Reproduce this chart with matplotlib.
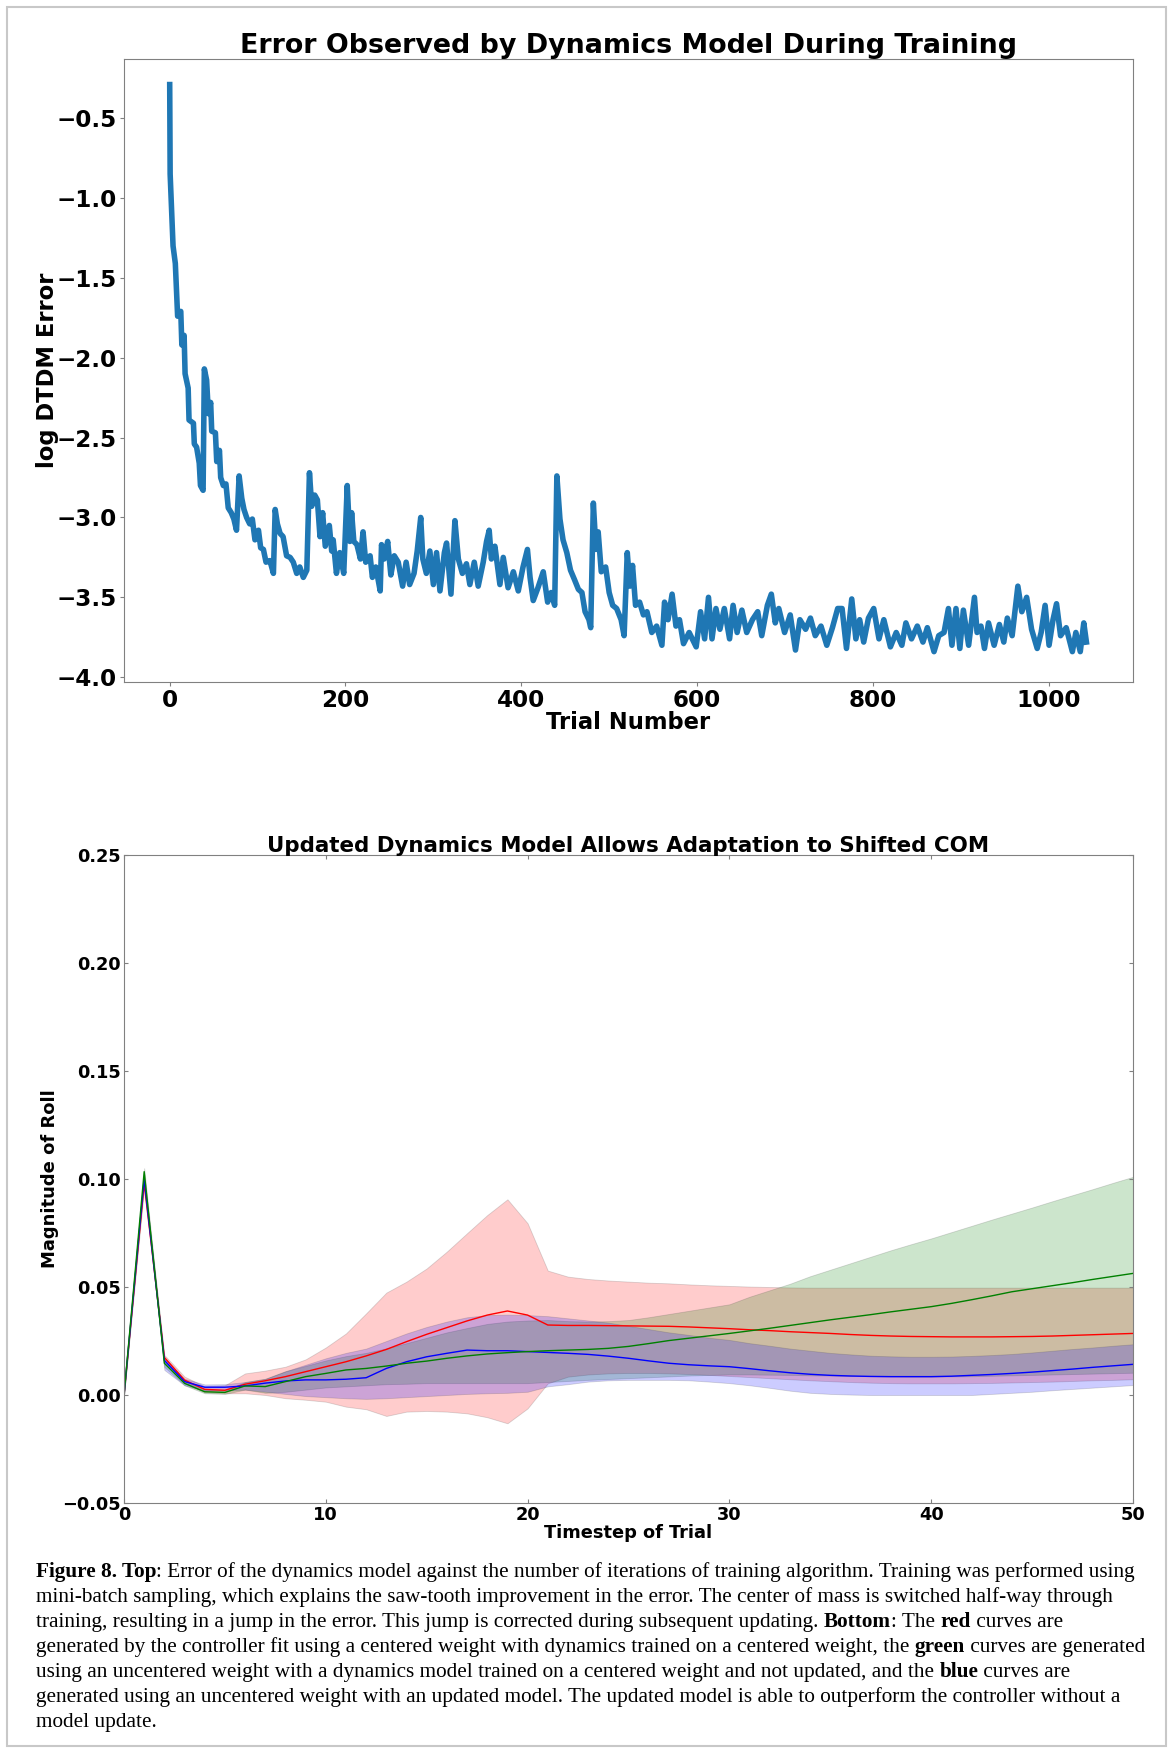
import numpy as np
import matplotlib
matplotlib.use("Agg")
import matplotlib.pyplot as plt
from matplotlib.patches import Rectangle
from matplotlib.ticker import FuncFormatter

# --- Top panel: log DTDM error vs trial number ---
trial = [0, 0.5, 3.8, 6.4, 9, 12.6, 13.8, 16.4, 17.5, 21, 22, 27, 28, 30.6, 33.6, 35, 38, 39.4,
         42, 44, 46.6, 47.8, 52, 53.5, 56.6, 58, 61, 64, 66.6, 70, 73, 76, 79, 82, 84.5, 87.5,
         91, 94, 97, 101, 103.5, 106.6, 109.6, 114, 118, 120, 122.5, 125.6, 129, 133, 137,
         140.6, 144.5, 148, 152, 156, 159, 161.6, 165, 168, 171, 174, 177, 181.6, 184.3, 186,
         189.7, 193.5, 198, 202, 205, 207, 209.5, 213, 217, 220, 223, 228, 230.6, 234.5,
         239.5, 241, 244, 248, 251.6, 255.5, 260, 265, 269, 273, 278, 281.6, 285.6, 288, 292,
         296, 300, 303.6, 307.5, 312.5, 315, 320, 324.5, 328.4, 333, 337.6, 341.5, 346.5, 351,
         356.7, 360.5, 363.5, 366, 370, 375.7, 379.5, 385, 391, 396.6, 402, 407, 410, 413.6,
         419, 425, 430, 434, 438, 440.5, 444, 447.5, 451.8, 456, 460.6, 465, 469, 472.6, 477,
         479, 482, 485, 487.5, 491, 496, 500, 504, 508.5, 513.6, 517, 520.6, 523.6, 526.6, 530,
         534.6, 539, 543, 548.5, 554, 560, 563, 567, 571.6, 576, 580, 584.6, 591, 599, 604,
         608.6, 613, 617, 621.5, 626, 631, 637, 641, 645.6, 651, 656.5, 663, 669, 673.6, 680,
         684.5, 689, 693, 699.6, 706, 712, 717, 723.5, 729, 734.5, 741, 747.6, 754, 760, 765,
         770, 776, 780.7, 785, 789.6, 795, 801, 807, 812.5, 820, 826.6, 833, 837.6, 844, 850.6,
         857, 862, 869.6, 875, 881, 886, 890, 894.6, 899, 903, 909, 915.6, 918.6, 923, 927,
         931.6, 938, 944, 949, 953, 958.5, 965, 969.5, 975, 980.6, 987, 991.5, 996, 1000.5,
         1005, 1009, 1013.6, 1020, 1027, 1031, 1036, 1040, 1043]
log_err = [-0.29, -0.85, -1.30, -1.41, -1.74, -1.71, -1.92, -1.86, -2.10, -2.19, -2.39, -2.41,
           -2.54, -2.56, -2.66, -2.80, -2.83, -2.07, -2.14, -2.35, -2.28, -2.46, -2.47, -2.65,
           -2.58, -2.75, -2.80, -2.79, -2.94, -2.97, -3.01, -3.08, -2.74, -2.88, -2.95, -3.00,
           -3.04, -3.01, -3.14, -3.08, -3.19, -3.20, -3.28, -3.27, -3.35, -2.95, -3.04, -3.10,
           -3.12, -3.24, -3.25, -3.28, -3.35, -3.31, -3.375, -3.33, -2.72, -2.93, -2.86, -2.89,
           -3.12, -2.97, -3.18, -3.05, -3.21, -3.14, -3.35, -3.22, -3.35, -2.80, -3.15, -2.97,
           -3.15, -3.17, -3.26, -3.09, -3.28, -3.24, -3.375, -3.31, -3.46, -3.17, -3.26, -3.15,
           -3.36, -3.24, -3.28, -3.43, -3.28, -3.42, -3.35, -3.21, -3.00, -3.26, -3.35, -3.21,
           -3.42, -3.22, -3.46, -3.22, -3.16, -3.48, -3.02, -3.26, -3.35, -3.29, -3.42, -3.28,
           -3.43, -3.28, -3.15, -3.08, -3.26, -3.18, -3.42, -3.25, -3.44, -3.34, -3.46, -3.31,
           -3.20, -3.375, -3.52, -3.44, -3.34, -3.53, -3.47, -3.55, -2.74, -3.01, -3.14, -3.22,
           -3.33, -3.39, -3.45, -3.47, -3.59, -3.64, -3.69, -2.91, -3.20, -3.09, -3.34, -3.31,
           -3.47, -3.55, -3.57, -3.64, -3.74, -3.22, -3.43, -3.30, -3.55, -3.53, -3.61, -3.59,
           -3.72, -3.68, -3.80, -3.53, -3.64, -3.48, -3.68, -3.64, -3.79, -3.72, -3.81, -3.59,
           -3.76, -3.50, -3.76, -3.57, -3.70, -3.57, -3.76, -3.55, -3.72, -3.58, -3.72, -3.64,
           -3.59, -3.74, -3.55, -3.48, -3.66, -3.57, -3.72, -3.61, -3.83, -3.64, -3.70, -3.63,
           -3.74, -3.68, -3.80, -3.69, -3.57, -3.57, -3.82, -3.51, -3.76, -3.64, -3.78, -3.63,
           -3.57, -3.76, -3.64, -3.81, -3.72, -3.80, -3.66, -3.76, -3.68, -3.78, -3.69, -3.84,
           -3.74, -3.72, -3.57, -3.80, -3.57, -3.82, -3.58, -3.80, -3.50, -3.72, -3.68, -3.82,
           -3.66, -3.80, -3.67, -3.78, -3.63, -3.74, -3.43, -3.59, -3.50, -3.70, -3.82, -3.72,
           -3.55, -3.80, -3.64, -3.54, -3.74, -3.69, -3.84, -3.72, -3.84, -3.66, -3.78]

# --- Bottom panel: magnitude of roll per timestep (mean and band edges) ---
timestep = list(range(51))
red_mean = [0.0, 0.098, 0.0174, 0.0069, 0.0026, 0.0022, 0.005, 0.0066, 0.0085, 0.0108, 0.0131,
            0.0154, 0.0181, 0.0211, 0.0247, 0.0281, 0.0312, 0.0343, 0.0370, 0.0389, 0.0370,
            0.0324, 0.0322, 0.0322, 0.0321, 0.0320, 0.0319, 0.0318, 0.0315, 0.0311, 0.0307,
            0.0302, 0.0298, 0.0293, 0.0289, 0.0285, 0.0280, 0.0276, 0.0273, 0.0271, 0.0270,
            0.0269, 0.0269, 0.0269, 0.0270, 0.0271, 0.0273, 0.0276, 0.0279, 0.0282, 0.0285]
red_hi = [0.0, 0.100, 0.0185, 0.0085, 0.0040, 0.0045, 0.0100, 0.0113, 0.0131, 0.0165, 0.0220,
          0.0285, 0.0378, 0.0474, 0.0525, 0.0586, 0.0664, 0.0749, 0.0833, 0.0906, 0.0795,
          0.0576, 0.0548, 0.0537, 0.0530, 0.0525, 0.0520, 0.0517, 0.0512, 0.0508, 0.0505,
          0.0502, 0.0500, 0.0498, 0.0497, 0.0497, 0.0497, 0.0497, 0.0497, 0.0497, 0.0497,
          0.0497, 0.0497, 0.0497, 0.0497, 0.0497, 0.0497, 0.0497, 0.0497, 0.0497, 0.0497]
red_lo = [0.0, 0.096, 0.016, 0.0055, 0.0012, 0.0008, 0.0008, 0.0000, -0.0015, -0.0022, -0.0031,
          -0.0054, -0.0066, -0.0097, -0.0077, -0.0074, -0.0077, -0.0085, -0.0103, -0.0131,
          -0.0062, 0.0054, 0.0085, 0.0095, 0.0100, 0.0102, 0.0102, 0.0100, 0.0097, 0.0093,
          0.0088, 0.0083, 0.0078, 0.0073, 0.0068, 0.0064, 0.0060, 0.0057, 0.0055, 0.0054,
          0.0054, 0.0054, 0.0055, 0.0056, 0.0058, 0.0060, 0.0062, 0.0065, 0.0068, 0.0070, 0.0073]
green_mean = [0.0, 0.1034, 0.0147, 0.0054, 0.0015, 0.0012, 0.0042, 0.0039, 0.0062, 0.0085,
              0.0100, 0.0116, 0.0123, 0.0134, 0.0147, 0.0157, 0.0170, 0.0181, 0.0190, 0.0196,
              0.0201, 0.0205, 0.0208, 0.0211, 0.0216, 0.0225, 0.0238, 0.0252, 0.0263, 0.0274,
              0.0285, 0.0297, 0.0309, 0.0322, 0.0335, 0.0348, 0.0360, 0.0372, 0.0385, 0.0397,
              0.0409, 0.0424, 0.0441, 0.0459, 0.0478, 0.0492, 0.0506, 0.0520, 0.0535, 0.0549,
              0.0563]
green_hi = [0.0, 0.105, 0.0165, 0.0065, 0.0025, 0.0022, 0.0060, 0.0075, 0.0110, 0.0135, 0.0160,
            0.0180, 0.0195, 0.0216, 0.0240, 0.0265, 0.0290, 0.0310, 0.0329, 0.0340, 0.0345,
            0.0347, 0.0342, 0.0340, 0.0342, 0.0347, 0.0360, 0.0375, 0.0390, 0.0405, 0.0420,
            0.0455, 0.0485, 0.0515, 0.0550, 0.0580, 0.0610, 0.0640, 0.0670, 0.0698, 0.0725,
            0.0754, 0.0783, 0.0812, 0.0840, 0.0868, 0.0897, 0.0925, 0.0953, 0.0982, 0.1010]
green_lo = [0.0, 0.102, 0.013, 0.0045, 0.0008, 0.0005, 0.0025, 0.0010, 0.0015, 0.0025, 0.0035,
            0.0040, 0.0045, 0.0050, 0.0052, 0.0055, 0.0055, 0.0055, 0.0055, 0.0055, 0.0055,
            0.0060, 0.0065, 0.0070, 0.0074, 0.0078, 0.0082, 0.0086, 0.0090, 0.0093, 0.0095,
            0.0095, 0.0094, 0.0093, 0.0091, 0.0090, 0.0088, 0.0087, 0.0086, 0.0085, 0.0085,
            0.0086, 0.0087, 0.0089, 0.0091, 0.0093, 0.0095, 0.0097, 0.0099, 0.0101, 0.0103]
blue_mean = [0.0, 0.100, 0.016, 0.0062, 0.0036, 0.0036, 0.0042, 0.0055, 0.0065, 0.0070, 0.0070,
             0.0073, 0.0080, 0.0123, 0.0154, 0.0177, 0.0193, 0.0208, 0.0205, 0.0205, 0.0201,
             0.0197, 0.0193, 0.0188, 0.0180, 0.0170, 0.0158, 0.0147, 0.0140, 0.0135, 0.0131,
             0.0122, 0.0112, 0.0103, 0.0096, 0.0091, 0.0088, 0.0086, 0.0085, 0.0085, 0.0085,
             0.0087, 0.0091, 0.0095, 0.0100, 0.0106, 0.0113, 0.0120, 0.0128, 0.0135, 0.0142]
blue_hi = [0.0, 0.101, 0.0172, 0.0075, 0.0049, 0.0050, 0.0060, 0.0075, 0.0110, 0.0140, 0.0170,
           0.0195, 0.0215, 0.0250, 0.0285, 0.0315, 0.0340, 0.0360, 0.0370, 0.0372, 0.0370,
           0.0365, 0.0355, 0.0345, 0.0335, 0.0320, 0.0305, 0.0290, 0.0278, 0.0265, 0.0255,
           0.0240, 0.0228, 0.0215, 0.0205, 0.0195, 0.0188, 0.0182, 0.0179, 0.0177, 0.0177,
           0.0178, 0.0181, 0.0185, 0.0190, 0.0197, 0.0205, 0.0213, 0.0220, 0.0228, 0.0235]
blue_lo = [0.0, 0.099, 0.0116, 0.0045, 0.0020, 0.0020, 0.0025, 0.0015, 0.0005, -0.0005, -0.0010,
           -0.0015, -0.0018, -0.0015, -0.0010, -0.0005, 0.0000, 0.0005, 0.0008, 0.0010, 0.0015,
           0.0040, 0.0050, 0.0062, 0.0068, 0.0070, 0.0070, 0.0070, 0.0068, 0.0062, 0.0055,
           0.0045, 0.0033, 0.0020, 0.0010, 0.0005, 0.0002, 0.0, 0.0, 0.0, 0.0, 0.0, 0.0,
           0.0005, 0.0010, 0.0015, 0.0022, 0.0028, 0.0034, 0.0040, 0.0046]

caption = [
    [("Figure 8. Top", True), (": Error of the dynamics model against the number of iterations of training algorithm. Training was performed using", False)],
    [("mini-batch sampling, which explains the saw-tooth improvement in the error. The center of mass is switched half-way through", False)],
    [("training, resulting in a jump in the error. This jump is corrected during subsequent updating. ", False), ("Bottom", True), (": The ", False), ("red", True), (" curves are", False)],
    [("generated by the controller fit using a centered weight with dynamics trained on a centered weight, the ", False), ("green", True), (" curves are generated", False)],
    [("using an uncentered weight with a dynamics model trained on a centered weight and not updated, and the ", False), ("blue", True), (" curves are", False)],
    [("generated using an uncentered weight with an updated model. The updated model is able to outperform the controller without a", False)],
    [("model update.", False)],
]

W, H = 1170, 1753
fig = plt.figure(figsize=(W / 100, H / 100), dpi=100)
fig.patches.append(Rectangle((7 / W, 7 / H), 1159 / W, 1739 / H, transform=fig.transFigure,
                             fill=False, edgecolor='#c8c8c8', lw=1.5))

spine_c = '#808080'
minus = lambda v, fmt: (fmt % v).replace('-', '\u2212')

# ---------- top ----------
ax1 = fig.add_axes([124 / W, 1 - 682 / H, 1009 / W, 623 / H])
ax1.plot(trial, log_err, color='#1f77b4', lw=4)
ax1.set_xlim(-52, 1096)
ax1.set_ylim(-4.03, -0.13)
ax1.set_xticks([0, 200, 400, 600, 800, 1000])
ax1.set_yticks([-4.0, -3.5, -3.0, -2.5, -2.0, -1.5, -1.0, -0.5])
ax1.yaxis.set_major_formatter(FuncFormatter(lambda v, p: minus(v, '%.1f')))
ax1.tick_params(labelsize=16.6, length=3, pad=2, color=spine_c)
for lab in ax1.get_xticklabels() + ax1.get_yticklabels():
    lab.set_fontweight('bold')
for s in ax1.spines.values():
    s.set_color(spine_c)
ax1.set_title('Error Observed by Dynamics Model During Training', fontsize=19.4,
              fontweight='bold', pad=3)
ax1.set_xlabel('Trial Number', fontsize=16.3, fontweight='bold')
ax1.set_ylabel('log DTDM Error', fontsize=16.3, fontweight='bold')
ax1.xaxis.set_label_coords(0.5, -0.046)
ax1.yaxis.set_label_coords(-0.064, 0.5)

# ---------- bottom ----------
ax2 = fig.add_axes([124 / W, 1 - 1503 / H, 1009 / W, 648 / H])
bands = [(red_lo, red_hi, 'red'), (green_lo, green_hi, 'green'), (blue_lo, blue_hi, 'blue')]
for lo, hi, c in bands:
    ax2.fill_between(timestep, lo, hi, facecolor=c, alpha=0.2, edgecolor='#404040', lw=0.6)
ax2.plot(timestep, red_mean, color='red', lw=1)
ax2.plot(timestep, blue_mean, color='blue', lw=1)
ax2.plot(timestep, green_mean, color='green', lw=1)
ax2.set_xlim(0, 50)
ax2.set_ylim(-0.05, 0.25)
ax2.set_xticks([0, 10, 20, 30, 40, 50])
ax2.set_yticks([-0.05, 0.0, 0.05, 0.10, 0.15, 0.20, 0.25])
ax2.yaxis.set_major_formatter(FuncFormatter(lambda v, p: minus(v, '%.2f')))
ax2.tick_params(direction='in', top=True, right=True, labelsize=12.8, length=3, pad=2,
                color=spine_c)
for lab in ax2.get_xticklabels() + ax2.get_yticklabels():
    lab.set_fontweight('bold')
for s in ax2.spines.values():
    s.set_color(spine_c)
ax2.set_title('Updated Dynamics Model Allows Adaptation to Shifted COM', fontsize=15.4,
              fontweight='bold', pad=2.5)
ax2.set_xlabel('Timestep of Trial', fontsize=12.8, fontweight='bold')
ax2.set_ylabel('Magnitude of Roll', fontsize=13, fontweight='bold')
ax2.xaxis.set_label_coords(0.5, -0.032)
ax2.yaxis.set_label_coords(-0.064, 0.5)

# ---------- caption ----------
cap_fs = 15.3
cap_font = 'Liberation Serif'
renderer = fig.canvas.get_renderer()


def width(s, bold):
    t = fig.text(0, 0, '|' + s + '|', fontsize=cap_fs, family=cap_font,
                 weight='bold' if bold else 'normal')
    w = t.get_window_extent(renderer).width
    t.set_text('||')
    w -= t.get_window_extent(renderer).width
    t.remove()
    return w


y0, dy = 1577, 25.0
for i, line in enumerate(caption):
    x = 36
    for seg, bold in line:
        fig.text(x / W, 1 - (y0 + i * dy) / H, seg, fontsize=cap_fs, family=cap_font,
                 weight='bold' if bold else 'normal', ha='left', va='baseline')
        x += width(seg, bold)

fig.savefig('out.png', dpi=100)
